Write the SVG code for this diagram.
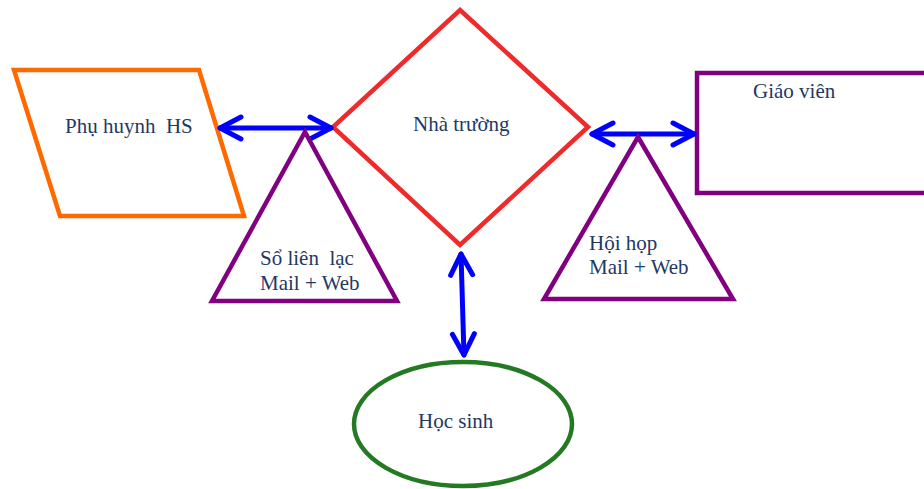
<svg xmlns="http://www.w3.org/2000/svg" width="924" height="489" viewBox="0 0 924 489">
<style>
.t{font-size:21px;fill:#1F3864;white-space:pre}
.s{fill:#fff;stroke-width:4.5;stroke-linejoin:miter}
.c{fill:none;stroke:#0000FF;stroke-width:5;stroke-linecap:round}
</style>
<defs>
<marker id="ah" markerUnits="userSpaceOnUse" markerWidth="40" markerHeight="40" viewBox="-30 -20 40 40" refX="0" refY="0" orient="auto-start-reverse" overflow="visible">
<path d="M-21,-11 L0,0 L-21,11" fill="none" stroke="#0000FF" stroke-width="5" stroke-linecap="round" stroke-linejoin="round"/>
</marker>
</defs>
<rect width="924" height="489" fill="#fff"/>
<g font-family="'Liberation Serif', 'DejaVu Serif', serif">
<g id="phuhuynh">
<polygon class="s" points="14,70 199,70 244,216 60,216" stroke="#FF6A00"/>
<text class="t" x="65" y="133">Phụ huynh  HS</text>
</g>
<g id="nhatruong">
<polygon class="s" points="460,10 588,127 460,245 333,127" stroke="#EE2A2A"/>
<text class="t" x="413" y="131">Nhà trường</text>
</g>
<g id="giaovien">
<rect class="s" x="697" y="73" width="240" height="120" stroke="#800080"/>
<text class="t" x="753" y="98">Giáo viên</text>
</g>
<g id="hocsinh">
<ellipse class="s" cx="463" cy="424" rx="109" ry="62" stroke="#237A23"/>
<text class="t" x="418" y="428">Học sinh</text>
</g>
<g id="connectors">
<line class="c" x1="220" y1="128" x2="331" y2="128" marker-start="url(#ah)" marker-end="url(#ah)"/>
<line class="c" x1="592" y1="134" x2="694" y2="134" marker-start="url(#ah)" marker-end="url(#ah)"/>
<line class="c" x1="461" y1="254" x2="464" y2="355" marker-start="url(#ah)" marker-end="url(#ah)"/>
</g>
<g id="solienlac">
<polygon class="s" points="305,132 397,301 212,301" stroke="#800080"/>
<text class="t" x="260" y="265">Sổ liên  lạc</text>
<text class="t" x="260" y="290">Mail + Web</text>
</g>
<g id="hoihop">
<polygon class="s" points="638,137 733,299 544,299" stroke="#800080"/>
<text class="t" x="589" y="250">Hội họp</text>
<text class="t" x="589" y="274">Mail + Web</text>
</g>
</g>
</svg>
